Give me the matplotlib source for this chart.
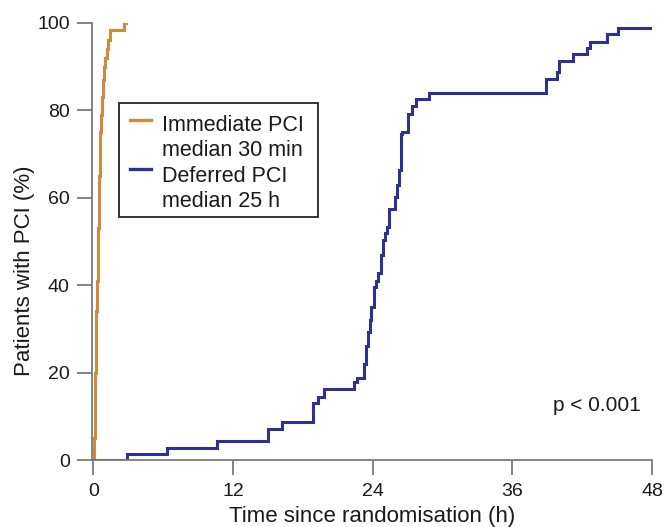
import matplotlib
matplotlib.use("Agg")
import matplotlib.pyplot as plt
from matplotlib.patches import Rectangle
from matplotlib.lines import Line2D

plt.rcParams.update({
    "font.family": ["Liberation Sans", "DejaVu Sans"],
    "font.size": 14,
})

# Immediate PCI: cumulative % of patients with PCI (step, post)
imm_time = [0, 0.08, 0.12, 0.18, 0.22, 0.27, 0.32, 0.37, 0.42, 0.47, 0.52,
            0.57, 0.62, 0.67, 0.75, 0.85, 0.95, 1.05, 1.15, 1.3, 1.45, 2.65, 2.8]
imm_pct = [0, 5, 12, 20, 27, 34, 41, 47, 53, 59, 65,
           70, 75, 79, 83, 87, 90, 92, 94, 96, 98.5, 100, 100]

# Deferred PCI
def_time = [0, 2.9, 6.3, 10.6, 15.0, 16.2, 18.9, 19.3, 19.8, 22.4, 22.65,
            23.26, 23.45, 23.63, 23.8, 23.9, 24.1, 24.3, 24.5, 24.7, 24.9,
            25.05, 25.2, 25.4, 25.9, 26.1, 26.3, 26.4, 26.5, 27.07, 27.36,
            27.7, 28.8, 38.86, 39.8, 40.0, 41.2, 42.4, 42.7, 44.1, 45.1, 47.95]
def_pct = [0, 1.3, 2.8, 4.4, 7.2, 8.8, 13.0, 14.5, 16.2, 17.9, 18.8,
           22, 26, 29.3, 32, 35, 39.6, 41, 42.7, 47, 50.3,
           52, 53.3, 57.5, 60.2, 63, 66.3, 74.7, 75, 79.2, 81.1,
           82.7, 84.0, 87.1, 88.7, 91.4, 92.9, 94.2, 95.7, 97.4, 98.8, 98.8]

x_ticks = [0, 12, 24, 36, 48]
y_ticks = [0, 20, 40, 60, 80, 100]

ORANGE = "#d08a3e"
BLUE = "#2e3192"
AXIS_GREY = "#7a7a7a"
TEXT = "#1a1a1a"

fig = plt.figure(figsize=(6.64, 5.27), dpi=100)
ax = fig.add_axes([0.1386, 0.1271, 0.8434, 0.8293])

ax.step(imm_time, imm_pct, where="post", color=ORANGE, lw=2.2, solid_joinstyle="miter")
ax.step(def_time, def_pct, where="post", color=BLUE, lw=2.2, solid_joinstyle="miter")

ax.set_xlim(-0.1, 48)
ax.set_ylim(0, 100)
ax.set_xticks(x_ticks)
ax.set_yticks(y_ticks)
for side in ("top", "right"):
    ax.spines[side].set_visible(False)
for side in ("left", "bottom"):
    ax.spines[side].set_color(AXIS_GREY)
    ax.spines[side].set_linewidth(1.3)
ax.tick_params(colors=AXIS_GREY, labelcolor=TEXT, width=1.3, length=10.5,
               labelsize=14)
ax.tick_params(axis="y", pad=5.5)
ax.tick_params(axis="x", pad=6)

ax.set_xlabel("Time since randomisation (h)", fontsize=16, color=TEXT)
ax.xaxis.set_label_coords(0.5, -0.1416)
ax.xaxis.label.set_va("baseline")
ax.set_ylabel("Patients with PCI (%)", fontsize=16, color=TEXT)
ax.yaxis.set_label_coords(-0.121, 0.432)
ax.yaxis.label.set_va("center")

ax.text(0.979, 0.112, "p < 0.001", transform=ax.transAxes, ha="right",
        va="baseline", fontsize=15, color=TEXT)

# legend box drawn by hand so each marker sits on the first label line
box = Rectangle((0.0482, 0.555), 0.355, 0.262, transform=ax.transAxes,
                fill=False, ec="#222222", lw=1.3, clip_on=False)
ax.add_patch(box)
for y_line, y_t1, y_t2, col, l1, l2 in [
    (0.7785, 0.7534, 0.6963, ORANGE, "Immediate PCI", "median 30 min"),
    (0.6667, 0.6354, 0.5783, BLUE, "Deferred PCI", "median 25 h"),
]:
    ax.add_line(Line2D([0.0679, 0.1054], [y_line, y_line], transform=ax.transAxes,
                       color=col, lw=2.4, clip_on=False))
    ax.text(0.125, y_t1, l1, transform=ax.transAxes, va="baseline",
            fontsize=15.5, color=TEXT)
    ax.text(0.125, y_t2, l2, transform=ax.transAxes, va="baseline",
            fontsize=15.5, color=TEXT)

fig.savefig("out.png", dpi=100)
